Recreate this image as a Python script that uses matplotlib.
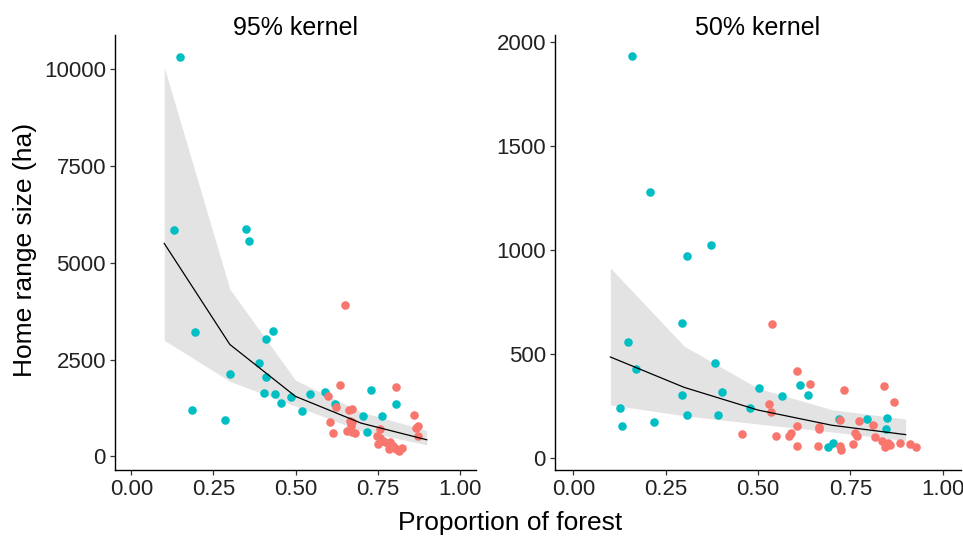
import matplotlib
matplotlib.use("Agg")
import matplotlib.pyplot as plt
import numpy as np

plt.rcParams['font.family'] = ['Liberation Sans', 'DejaVu Sans']

SALMON = "#F8766D"
TEAL = "#00BFC4"

# ---------------- 95% kernel data ----------------
k95_teal_x = [0.131, 0.147, 0.186, 0.195, 0.286, 0.300, 0.350, 0.358, 0.389, 0.405,
              0.409, 0.409, 0.430, 0.439, 0.456, 0.485, 0.519, 0.544, 0.591, 0.620,
              0.705, 0.718, 0.730, 0.764, 0.767, 0.806]
k95_teal_y = [5850, 10320, 1200, 3200, 950, 2130, 5880, 5570, 2410, 1630,
              3020, 2060, 3250, 1600, 1380, 1530, 1170, 1600, 1670, 1350,
              1035, 637, 1705, 1035, 394, 1345]
k95_salmon_x = [0.650, 0.637, 0.805, 0.599, 0.624, 0.662, 0.672, 0.604, 0.613, 0.665,
                0.672, 0.668, 0.657, 0.672, 0.682, 0.758, 0.748, 0.758, 0.768, 0.779,
                0.789, 0.795, 0.800, 0.785, 0.806, 0.815, 0.825, 0.862, 0.872, 0.868,
                0.872, 0.752]
k95_salmon_y = [3920, 1850, 1780, 1550, 1270, 1210, 1230, 885, 610, 910,
                880, 780, 650, 630, 610, 715, 520, 480, 390, 350,
                370, 300, 250, 200, 180, 130, 220, 1080, 780, 740,
                525, 310]
k95_fit_x = [0.1, 0.3, 0.5, 0.7, 0.9]
k95_fit = [5500, 2890, 1550, 860, 430]
k95_upper = [10050, 4320, 1970, 1150, 670]
k95_lower = [3000, 1940, 1300, 660, 300]

# ---------------- 50% kernel data ----------------
k50_teal_x = [0.158, 0.207, 0.372, 0.308, 0.293, 0.147, 0.169, 0.383, 0.125, 0.132,
              0.219, 0.293, 0.308, 0.402, 0.391, 0.477, 0.504, 0.565, 0.613, 0.636,
              0.719, 0.690, 0.703, 0.794, 0.850, 0.846]
k50_teal_y = [1931, 1277, 1024, 971, 650, 558, 425, 457, 239, 152,
              171, 304, 205, 317, 205, 239, 338, 298, 351, 304,
              187, 51, 72, 187, 192, 139]
k50_salmon_x = [0.538, 0.606, 0.640, 0.733, 0.842, 0.869, 0.530, 0.534, 0.606, 0.665,
                0.665, 0.721, 0.774, 0.812, 0.458, 0.550, 0.584, 0.590, 0.606, 0.663,
                0.726, 0.721, 0.762, 0.768, 0.758, 0.816, 0.835, 0.845, 0.852, 0.857,
                0.884, 0.913, 0.929]
k50_salmon_y = [645, 416, 357, 325, 344, 271, 260, 223, 152, 148,
                138, 184, 177, 158, 117, 104, 104, 118, 56, 56,
                40, 56, 122, 107, 67, 99, 80, 53, 70, 62,
                72, 67, 51]
k50_fit_x = [0.1, 0.3, 0.5, 0.7, 0.9]
k50_fit = [485, 339, 230, 157, 112]
k50_upper = [913, 537, 335, 232, 187]
k50_lower = [255, 203, 163, 125, 83]

x_ticks = [0.0, 0.25, 0.5, 0.75, 1.0]
x_ticklabels = ["0.00", "0.25", "0.50", "0.75", "1.00"]
k95_yticks = [0, 2500, 5000, 7500, 10000]
k50_yticks = [0, 500, 1000, 1500, 2000]

W, H = 963, 538
fig = plt.figure(figsize=(W / 100, H / 100), dpi=100)

def axes_px(x0, x1, ytop, ybot):
    return fig.add_axes([x0 / W, (H - ybot) / H, (x1 - x0) / W, (ybot - ytop) / H])

ax1 = axes_px(115, 476, 35, 470)
ax2 = axes_px(555, 961, 35, 470)

panels = [
    (ax1, "95% kernel", k95_teal_x, k95_teal_y, k95_salmon_x, k95_salmon_y,
     k95_fit_x, k95_fit, k95_upper, k95_lower, k95_yticks, (-350, 10880)),
    (ax2, "50% kernel", k50_teal_x, k50_teal_y, k50_salmon_x, k50_salmon_y,
     k50_fit_x, k50_fit, k50_upper, k50_lower, k50_yticks, (-58, 2032)),
]

for (ax, title, tx, ty, sx, sy, fx, fy, fu, fl, yt, ylim) in panels:
    ax.fill_between(fx, fl, fu, color="#E3E3E3", linewidth=0, zorder=1)
    ax.scatter(tx, ty, s=38, color=TEAL, linewidths=0, zorder=2)
    ax.scatter(sx, sy, s=38, color=SALMON, linewidths=0, zorder=2)
    ax.plot(fx, fy, color="black", linewidth=0.9, zorder=3)
    ax.set_xlim(-0.05, 1.05)
    ax.set_ylim(*ylim)
    ax.set_xticks(x_ticks)
    ax.set_xticklabels(x_ticklabels)
    ax.set_yticks(yt)
    ax.set_yticklabels([str(v) for v in yt])
    for side in ("top", "right"):
        ax.spines[side].set_visible(False)
    for side in ("left", "bottom"):
        ax.spines[side].set_linewidth(1.0)
        ax.spines[side].set_color("black")
    ax.tick_params(axis="both", direction="out", length=3.5, width=0.9,
                   color="#333333", labelsize=16, labelcolor="#222222", pad=3)
    ax.text(0.5, 1.0, title, transform=ax.transAxes, ha="center", va="baseline",
            fontsize=18, color="black")

fig.text(25 / W, 1 - 250 / H, "Home range size (ha)", rotation=90, ha="center",
         va="center", fontsize=19, color="black")
fig.text(510 / W, 1 - 523 / H, "Proportion of forest", ha="center", va="center",
         fontsize=19, color="black")

fig.savefig("out.png", dpi=100)
